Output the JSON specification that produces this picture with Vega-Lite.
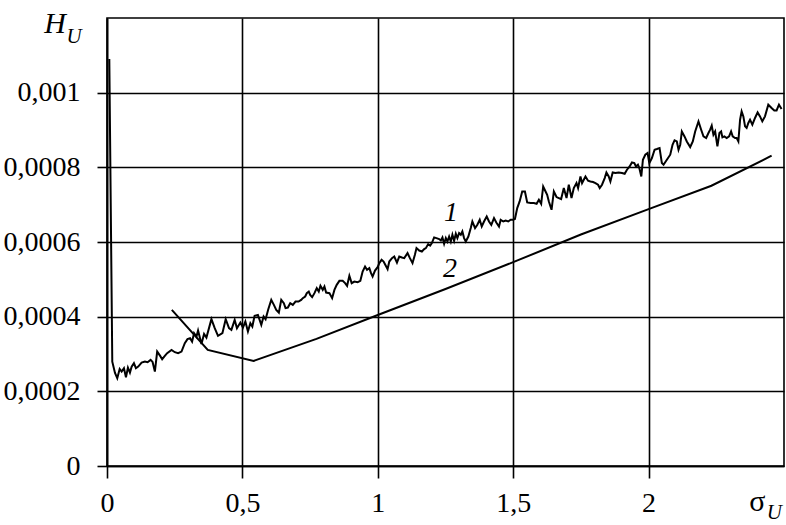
{
  "$schema": "https://vega.github.io/schema/vega-lite/v6.json",
  "width": 677,
  "height": 448,
  "autosize": "none",
  "padding": {"left": 107, "top": 18, "right": 2, "bottom": 59},
  "background": "white",
  "config": {"view": {"stroke": "black", "strokeWidth": 1.6}, "font": "Liberation Serif"},
  "datasets": {
    "curves": [
      {"s":"1","x":0.0085,"h":0.001090},
      {"s":"1","x":0.0195,"h":0.0002796},
      {"s":"1","x":0.0295,"h":0.0002493},
      {"s":"1","x":0.0379,"h":0.0002351},
      {"s":"1","x":0.0468,"h":0.0002600},
      {"s":"1","x":0.0541,"h":0.0002528},
      {"s":"1","x":0.0626,"h":0.0002619},
      {"s":"1","x":0.0700,"h":0.0002378},
      {"s":"1","x":0.0773,"h":0.0002635},
      {"s":"1","x":0.0847,"h":0.0002501},
      {"s":"1","x":0.0910,"h":0.0002662},
      {"s":"1","x":0.0994,"h":0.0002753},
      {"s":"1","x":0.1068,"h":0.0002619},
      {"s":"1","x":0.1153,"h":0.0002662},
      {"s":"1","x":0.1278,"h":0.0002769},
      {"s":"1","x":0.1400,"h":0.0002796},
      {"s":"1","x":0.1499,"h":0.0002780},
      {"s":"1","x":0.1610,"h":0.0002842},
      {"s":"1","x":0.1683,"h":0.0002788},
      {"s":"1","x":0.1768,"h":0.0002528},
      {"s":"1","x":0.1853,"h":0.0003064},
      {"s":"1","x":0.1963,"h":0.0002949},
      {"s":"1","x":0.2037,"h":0.0002861},
      {"s":"1","x":0.2136,"h":0.0002949},
      {"s":"1","x":0.2221,"h":0.0003021},
      {"s":"1","x":0.2383,"h":0.0003110},
      {"s":"1","x":0.2505,"h":0.0003048},
      {"s":"1","x":0.2626,"h":0.0003021},
      {"s":"1","x":0.2751,"h":0.0003064},
      {"s":"1","x":0.2873,"h":0.0003290},
      {"s":"1","x":0.2972,"h":0.0003397},
      {"s":"1","x":0.3068,"h":0.0003424},
      {"s":"1","x":0.3142,"h":0.0003332},
      {"s":"1","x":0.3215,"h":0.0003558},
      {"s":"1","x":0.3304,"h":0.0003466},
      {"s":"1","x":0.3363,"h":0.0003627},
      {"s":"1","x":0.3488,"h":0.0003271},
      {"s":"1","x":0.3584,"h":0.0003539},
      {"s":"1","x":0.3672,"h":0.0003440},
      {"s":"1","x":0.3856,"h":0.0003933},
      {"s":"1","x":0.3978,"h":0.0003692},
      {"s":"1","x":0.4099,"h":0.0003485},
      {"s":"1","x":0.4262,"h":0.0003558},
      {"s":"1","x":0.4383,"h":0.0003933},
      {"s":"1","x":0.4505,"h":0.0003692},
      {"s":"1","x":0.4593,"h":0.0003646},
      {"s":"1","x":0.4715,"h":0.0003914},
      {"s":"1","x":0.4799,"h":0.0003692},
      {"s":"1","x":0.4925,"h":0.0003842},
      {"s":"1","x":0.5020,"h":0.0003708},
      {"s":"1","x":0.5109,"h":0.0003869},
      {"s":"1","x":0.5204,"h":0.0003601},
      {"s":"1","x":0.5293,"h":0.0003826},
      {"s":"1","x":0.5367,"h":0.0003735},
      {"s":"1","x":0.5451,"h":0.0004021},
      {"s":"1","x":0.5573,"h":0.0004048},
      {"s":"1","x":0.5698,"h":0.0003780},
      {"s":"1","x":0.5783,"h":0.0004003},
      {"s":"1","x":0.5856,"h":0.0003933},
      {"s":"1","x":0.5956,"h":0.0004201},
      {"s":"1","x":0.6066,"h":0.0004450},
      {"s":"1","x":0.6162,"h":0.0004316},
      {"s":"1","x":0.6250,"h":0.0004182},
      {"s":"1","x":0.6346,"h":0.0004110},
      {"s":"1","x":0.6435,"h":0.0004450},
      {"s":"1","x":0.6530,"h":0.0004362},
      {"s":"1","x":0.6593,"h":0.0004228},
      {"s":"1","x":0.6678,"h":0.0004244},
      {"s":"1","x":0.6766,"h":0.0004362},
      {"s":"1","x":0.6862,"h":0.0004316},
      {"s":"1","x":0.6961,"h":0.0004405},
      {"s":"1","x":0.7072,"h":0.0004405},
      {"s":"1","x":0.7171,"h":0.0004450},
      {"s":"1","x":0.7230,"h":0.0004496},
      {"s":"1","x":0.7319,"h":0.0004539},
      {"s":"1","x":0.7378,"h":0.0004630},
      {"s":"1","x":0.7451,"h":0.0004673},
      {"s":"1","x":0.7503,"h":0.0004584},
      {"s":"1","x":0.7576,"h":0.0004523},
      {"s":"1","x":0.7661,"h":0.0004630},
      {"s":"1","x":0.7746,"h":0.0004764},
      {"s":"1","x":0.7820,"h":0.0004673},
      {"s":"1","x":0.7882,"h":0.0004826},
      {"s":"1","x":0.7967,"h":0.0004718},
      {"s":"1","x":0.8029,"h":0.0004807},
      {"s":"1","x":0.8092,"h":0.0004646},
      {"s":"1","x":0.8214,"h":0.0004630},
      {"s":"1","x":0.8313,"h":0.0004496},
      {"s":"1","x":0.8398,"h":0.0004718},
      {"s":"1","x":0.8483,"h":0.0004853},
      {"s":"1","x":0.8582,"h":0.0004960},
      {"s":"1","x":0.8703,"h":0.0004960},
      {"s":"1","x":0.8792,"h":0.0004898},
      {"s":"1","x":0.8866,"h":0.0004826},
      {"s":"1","x":0.8950,"h":0.0005094},
      {"s":"1","x":0.9035,"h":0.0004898},
      {"s":"1","x":0.9134,"h":0.0004941},
      {"s":"1","x":0.9256,"h":0.0004925},
      {"s":"1","x":0.9355,"h":0.0004960},
      {"s":"1","x":0.9440,"h":0.0005209},
      {"s":"1","x":0.9529,"h":0.0005343},
      {"s":"1","x":0.9602,"h":0.0005255},
      {"s":"1","x":0.9687,"h":0.0005300},
      {"s":"1","x":0.9750,"h":0.0005166},
      {"s":"1","x":0.9808,"h":0.0005075},
      {"s":"1","x":0.9897,"h":0.0005236},
      {"s":"1","x":0.9993,"h":0.0005327},
      {"s":"1","x":1.0055,"h":0.0005434},
      {"s":"1","x":1.0140,"h":0.0005523},
      {"s":"1","x":1.0214,"h":0.0005477},
      {"s":"1","x":1.0276,"h":0.0005389},
      {"s":"1","x":1.0361,"h":0.0005273},
      {"s":"1","x":1.0424,"h":0.0005477},
      {"s":"1","x":1.0523,"h":0.0005568},
      {"s":"1","x":1.0608,"h":0.0005611},
      {"s":"1","x":1.0707,"h":0.0005450},
      {"s":"1","x":1.0792,"h":0.0005611},
      {"s":"1","x":1.0891,"h":0.0005584},
      {"s":"1","x":1.0976,"h":0.0005568},
      {"s":"1","x":1.1098,"h":0.0005702},
      {"s":"1","x":1.1186,"h":0.0005568},
      {"s":"1","x":1.1282,"h":0.0005434},
      {"s":"1","x":1.1370,"h":0.0005657},
      {"s":"1","x":1.1429,"h":0.0005836},
      {"s":"1","x":1.1529,"h":0.0005772},
      {"s":"1","x":1.1628,"h":0.0005745},
      {"s":"1","x":1.1713,"h":0.0005810},
      {"s":"1","x":1.1775,"h":0.0005836},
      {"s":"1","x":1.1860,"h":0.0005944},
      {"s":"1","x":1.1934,"h":0.0005906},
      {"s":"1","x":1.1996,"h":0.0005971},
      {"s":"1","x":1.2081,"h":0.0006121},
      {"s":"1","x":1.2166,"h":0.0006105},
      {"s":"1","x":1.2265,"h":0.0006078},
      {"s":"1","x":1.2328,"h":0.0006040},
      {"s":"1","x":1.2387,"h":0.0006121},
      {"s":"1","x":1.2449,"h":0.0005952},
      {"s":"1","x":1.2512,"h":0.0006105},
      {"s":"1","x":1.2571,"h":0.0006013},
      {"s":"1","x":1.2634,"h":0.0006147},
      {"s":"1","x":1.2696,"h":0.0006013},
      {"s":"1","x":1.2755,"h":0.0006193},
      {"s":"1","x":1.2818,"h":0.0006032},
      {"s":"1","x":1.2881,"h":0.0006220},
      {"s":"1","x":1.2939,"h":0.0006105},
      {"s":"1","x":1.3002,"h":0.0006239},
      {"s":"1","x":1.3065,"h":0.0006193},
      {"s":"1","x":1.3123,"h":0.0006282},
      {"s":"1","x":1.3186,"h":0.0006105},
      {"s":"1","x":1.3249,"h":0.0006013},
      {"s":"1","x":1.3344,"h":0.0006147},
      {"s":"1","x":1.3433,"h":0.0006373},
      {"s":"1","x":1.3492,"h":0.0006550},
      {"s":"1","x":1.3591,"h":0.0006373},
      {"s":"1","x":1.3676,"h":0.0006461},
      {"s":"1","x":1.3764,"h":0.0006595},
      {"s":"1","x":1.3838,"h":0.0006416},
      {"s":"1","x":1.3923,"h":0.0006550},
      {"s":"1","x":1.4022,"h":0.0006684},
      {"s":"1","x":1.4107,"h":0.0006550},
      {"s":"1","x":1.4191,"h":0.0006461},
      {"s":"1","x":1.4291,"h":0.0006641},
      {"s":"1","x":1.4376,"h":0.0006523},
      {"s":"1","x":1.4475,"h":0.0006416},
      {"s":"1","x":1.4538,"h":0.0006595},
      {"s":"1","x":1.4634,"h":0.0006550},
      {"s":"1","x":1.4722,"h":0.0006576},
      {"s":"1","x":1.4818,"h":0.0006550},
      {"s":"1","x":1.4906,"h":0.0006595},
      {"s":"1","x":1.4991,"h":0.0006595},
      {"s":"1","x":1.5064,"h":0.0006614},
      {"s":"1","x":1.5149,"h":0.0006909},
      {"s":"1","x":1.5238,"h":0.0007086},
      {"s":"1","x":1.5333,"h":0.0007354},
      {"s":"1","x":1.5433,"h":0.0007354},
      {"s":"1","x":1.5517,"h":0.0007059},
      {"s":"1","x":1.5643,"h":0.0007043},
      {"s":"1","x":1.5764,"h":0.0007043},
      {"s":"1","x":1.5864,"h":0.0007024},
      {"s":"1","x":1.5948,"h":0.0007131},
      {"s":"1","x":1.6033,"h":0.0007024},
      {"s":"1","x":1.6107,"h":0.0007488},
      {"s":"1","x":1.6195,"h":0.0007354},
      {"s":"1","x":1.6254,"h":0.0007265},
      {"s":"1","x":1.6317,"h":0.0007086},
      {"s":"1","x":1.6416,"h":0.0006863},
      {"s":"1","x":1.6501,"h":0.0007354},
      {"s":"1","x":1.6600,"h":0.0007204},
      {"s":"1","x":1.6685,"h":0.0007177},
      {"s":"1","x":1.6770,"h":0.0007150},
      {"s":"1","x":1.6869,"h":0.0007445},
      {"s":"1","x":1.6969,"h":0.0007177},
      {"s":"1","x":1.7053,"h":0.0007534},
      {"s":"1","x":1.7153,"h":0.0007177},
      {"s":"1","x":1.7238,"h":0.0007445},
      {"s":"1","x":1.7337,"h":0.0007579},
      {"s":"1","x":1.7396,"h":0.0007445},
      {"s":"1","x":1.7484,"h":0.0007756},
      {"s":"1","x":1.7543,"h":0.0007579},
      {"s":"1","x":1.7669,"h":0.0007756},
      {"s":"1","x":1.7764,"h":0.0007641},
      {"s":"1","x":1.7853,"h":0.0007622},
      {"s":"1","x":1.7948,"h":0.0007606},
      {"s":"1","x":1.8037,"h":0.0007579},
      {"s":"1","x":1.8133,"h":0.0007534},
      {"s":"1","x":1.8195,"h":0.0007445},
      {"s":"1","x":1.8280,"h":0.0007534},
      {"s":"1","x":1.8379,"h":0.0007713},
      {"s":"1","x":1.8442,"h":0.0007863},
      {"s":"1","x":1.8527,"h":0.0007756},
      {"s":"1","x":1.8589,"h":0.0007622},
      {"s":"1","x":1.8674,"h":0.0007863},
      {"s":"1","x":1.8773,"h":0.0007847},
      {"s":"1","x":1.8895,"h":0.0007863},
      {"s":"1","x":1.9017,"h":0.0007847},
      {"s":"1","x":1.9116,"h":0.0007828},
      {"s":"1","x":1.9201,"h":0.0007936},
      {"s":"1","x":1.9300,"h":0.0008024},
      {"s":"1","x":1.9385,"h":0.0008131},
      {"s":"1","x":1.9473,"h":0.0008115},
      {"s":"1","x":1.9532,"h":0.0008024},
      {"s":"1","x":1.9606,"h":0.0008070},
      {"s":"1","x":1.9657,"h":0.0007981},
      {"s":"1","x":1.9731,"h":0.0007756},
      {"s":"1","x":1.9790,"h":0.0008204},
      {"s":"1","x":1.9878,"h":0.0008338},
      {"s":"1","x":1.9963,"h":0.0008383},
      {"s":"1","x":2.0026,"h":0.0008115},
      {"s":"1","x":2.0122,"h":0.0008249},
      {"s":"1","x":2.0221,"h":0.0008472},
      {"s":"1","x":2.0306,"h":0.0008491},
      {"s":"1","x":2.0405,"h":0.0008517},
      {"s":"1","x":2.0490,"h":0.0008115},
      {"s":"1","x":2.0552,"h":0.0008070},
      {"s":"1","x":2.0674,"h":0.0008204},
      {"s":"1","x":2.0799,"h":0.0008338},
      {"s":"1","x":2.0884,"h":0.0008606},
      {"s":"1","x":2.0958,"h":0.0008721},
      {"s":"1","x":2.1042,"h":0.0008694},
      {"s":"1","x":2.1105,"h":0.0008472},
      {"s":"1","x":2.1168,"h":0.0008606},
      {"s":"1","x":2.1227,"h":0.0008962},
      {"s":"1","x":2.1326,"h":0.0008828},
      {"s":"1","x":2.1411,"h":0.0008694},
      {"s":"1","x":2.1536,"h":0.0008544},
      {"s":"1","x":2.1632,"h":0.0008694},
      {"s":"1","x":2.1720,"h":0.0008962},
      {"s":"1","x":2.1842,"h":0.0009231},
      {"s":"1","x":2.1941,"h":0.0009008},
      {"s":"1","x":2.2026,"h":0.0008828},
      {"s":"1","x":2.2125,"h":0.0008786},
      {"s":"1","x":2.2210,"h":0.0008920},
      {"s":"1","x":2.2273,"h":0.0009008},
      {"s":"1","x":2.2331,"h":0.0009115},
      {"s":"1","x":2.2394,"h":0.0008874},
      {"s":"1","x":2.2457,"h":0.0008962},
      {"s":"1","x":2.2541,"h":0.0008560},
      {"s":"1","x":2.2615,"h":0.0008920},
      {"s":"1","x":2.2678,"h":0.0008962},
      {"s":"1","x":2.2726,"h":0.0008802},
      {"s":"1","x":2.2799,"h":0.0008828},
      {"s":"1","x":2.2884,"h":0.0008786},
      {"s":"1","x":2.2973,"h":0.0008828},
      {"s":"1","x":2.3046,"h":0.0008962},
      {"s":"1","x":2.3105,"h":0.0008828},
      {"s":"1","x":2.3193,"h":0.0008786},
      {"s":"1","x":2.3252,"h":0.0008786},
      {"s":"1","x":2.3315,"h":0.0008694},
      {"s":"1","x":2.3378,"h":0.0009276},
      {"s":"1","x":2.3436,"h":0.0009499},
      {"s":"1","x":2.3499,"h":0.0009365},
      {"s":"1","x":2.3562,"h":0.0009097},
      {"s":"1","x":2.3620,"h":0.0009054},
      {"s":"1","x":2.3683,"h":0.0009188},
      {"s":"1","x":2.3746,"h":0.0009276},
      {"s":"1","x":2.3831,"h":0.0009142},
      {"s":"1","x":2.3930,"h":0.0009322},
      {"s":"1","x":2.4026,"h":0.0009472},
      {"s":"1","x":2.4114,"h":0.0009365},
      {"s":"1","x":2.4199,"h":0.0009231},
      {"s":"1","x":2.4298,"h":0.0009365},
      {"s":"1","x":2.4420,"h":0.0009678},
      {"s":"1","x":2.4541,"h":0.0009590},
      {"s":"1","x":2.4641,"h":0.0009525},
      {"s":"1","x":2.4726,"h":0.0009525},
      {"s":"1","x":2.4814,"h":0.0009678},
      {"s":"1","x":2.4910,"h":0.0009563},
      {"s":"2","x":0.2394,"h":0.0004182},
      {"s":"2","x":0.3720,"h":0.0003110},
      {"s":"2","x":0.5414,"h":0.0002815},
      {"s":"2","x":0.7735,"h":0.0003405},
      {"s":"2","x":1.0,"h":0.0004045},
      {"s":"2","x":1.25,"h":0.0004740},
      {"s":"2","x":1.5,"h":0.0005460},
      {"s":"2","x":1.75,"h":0.0006200},
      {"s":"2","x":2.0,"h":0.0006880},
      {"s":"2","x":2.232,"h":0.0007507},
      {"s":"2","x":2.4542,"h":0.0008311}
    ],
    "notes": [
      {"label": "1", "x": 1.2707, "h": 0.000678},
      {"label": "2", "x": 1.267, "h": 0.000528}
    ],
    "names": [
      {"label": "H", "style": "italic", "x": -0.1915, "h": 0.001161},
      {"label": "σ", "style": "normal", "x": 2.4015, "h": -0.0001206}
    ],
    "subs": [
      {"label": "U", "x": -0.1215, "h": 0.001134},
      {"label": "U", "x": 2.464, "h": -0.000142}
    ]
  },
  "layer": [
    {
      "data": {"name": "curves"},
      "mark": {"type": "line", "color": "black", "strokeWidth": 2},
      "encoding": {
        "x": {
          "field": "x", "type": "quantitative",
          "scale": {"domain": [0, 2.5], "nice": false, "zero": false},
          "axis": {
            "values": [0, 0.5, 1, 1.5, 2],
            "format": ".1~f",
            "labelExpr": "replace(datum.label, '.', ',')",
            "title": null,
            "grid": true, "gridColor": "black", "gridWidth": 1.6, "gridOpacity": 1,
            "domainColor": "black", "domainWidth": 1.6,
            "tickColor": "black", "tickWidth": 1.6, "tickSize": 12,
            "labelFont": "Liberation Serif", "labelFontSize": 28, "labelColor": "black",
            "labelPadding": 11, "labelFlush": false, "labelOverlap": false
          }
        },
        "y": {
          "field": "h", "type": "quantitative",
          "scale": {"domain": [0, 0.0012], "nice": false},
          "axis": {
            "values": [0, 0.0002, 0.0004, 0.0006, 0.0008, 0.001],
            "format": ".4~f",
            "labelExpr": "replace(datum.label, '.', ',')",
            "title": null,
            "grid": true, "gridColor": "black", "gridWidth": 1.6, "gridOpacity": 1,
            "domainColor": "black", "domainWidth": 1.6,
            "tickColor": "black", "tickWidth": 1.6, "tickSize": 10,
            "labelFont": "Liberation Serif", "labelFontSize": 28, "labelColor": "black",
            "labelPadding": 17, "labelOverlap": false, "labelFlush": false
          }
        },
        "detail": {"field": "s"}
      }
    },
    {
      "data": {"name": "notes"},
      "mark": {"type": "text", "font": "Liberation Serif", "fontStyle": "italic", "fontSize": 28, "color": "black"},
      "encoding": {
        "x": {"field": "x", "type": "quantitative"},
        "y": {"field": "h", "type": "quantitative"},
        "text": {"field": "label"}
      }
    },
    {
      "data": {"name": "names"},
      "transform": [{"filter": "datum.style == 'italic'"}],
      "mark": {"type": "text", "font": "Liberation Serif", "fontStyle": "italic", "fontSize": 30, "color": "black", "baseline": "alphabetic"},
      "encoding": {
        "x": {"field": "x", "type": "quantitative"},
        "y": {"field": "h", "type": "quantitative"},
        "text": {"field": "label"}
      }
    },
    {
      "data": {"name": "names"},
      "transform": [{"filter": "datum.style == 'normal'"}],
      "mark": {"type": "text", "font": "Liberation Serif", "fontSize": 30, "color": "black", "baseline": "alphabetic"},
      "encoding": {
        "x": {"field": "x", "type": "quantitative"},
        "y": {"field": "h", "type": "quantitative"},
        "text": {"field": "label"}
      }
    },
    {
      "data": {"name": "subs"},
      "mark": {"type": "text", "font": "Liberation Serif", "fontStyle": "italic", "fontSize": 21, "color": "black", "baseline": "alphabetic"},
      "encoding": {
        "x": {"field": "x", "type": "quantitative"},
        "y": {"field": "h", "type": "quantitative"},
        "text": {"field": "label"}
      }
    }
  ]
}
